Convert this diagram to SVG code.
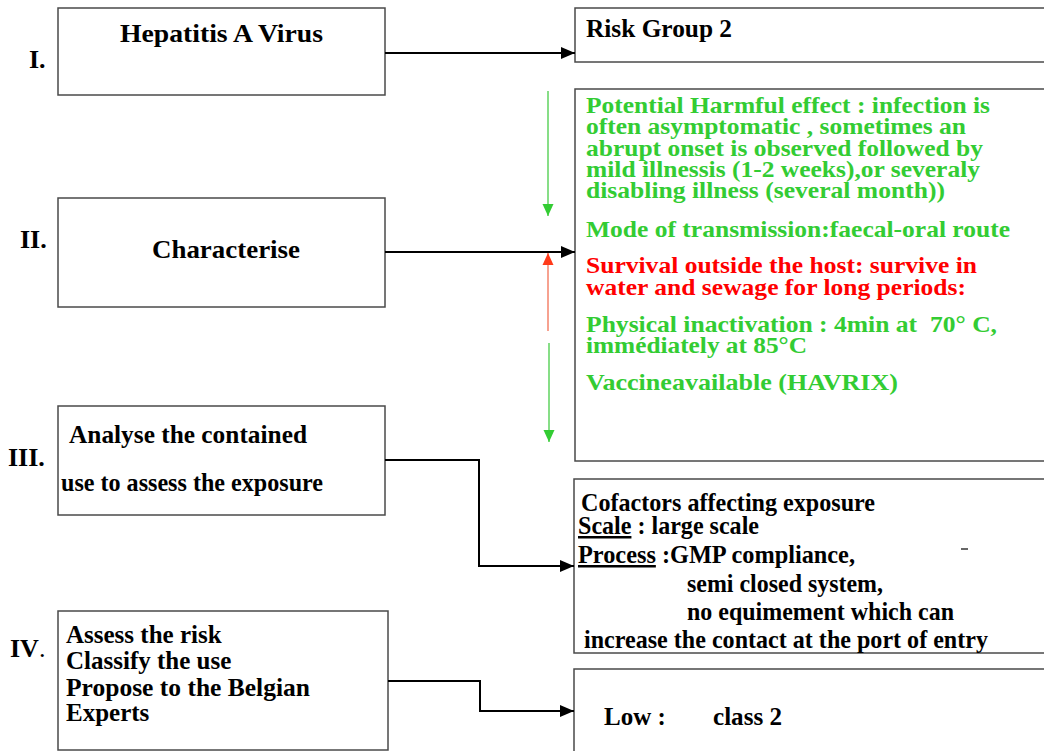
<svg xmlns="http://www.w3.org/2000/svg" width="1044" height="751" viewBox="0 0 1044 751">
<style>
  text { font-family: "Liberation Serif", "Times New Roman", serif; font-weight: bold; font-size: 25px; fill: #000; white-space: pre; }
  .num { font-size: 26px; }
  .box { fill: #fff; stroke: #4a4a4a; stroke-width: 1.5; }
  .conn { fill: none; stroke: #000; stroke-width: 2; }
  .g { fill: #33cc33; font-size: 23px; }
  .r { fill: #ff0000; font-size: 23px; }
  .u { text-decoration: underline; }
</style>
<defs>
  <marker id="ah" markerUnits="userSpaceOnUse" markerWidth="16" markerHeight="14" refX="14" refY="7" orient="auto">
    <path d="M0,1 L14,7 L0,13 Z" fill="#000"/>
  </marker>
  <marker id="ahg" markerUnits="userSpaceOnUse" markerWidth="14" markerHeight="12" refX="12" refY="6" orient="auto">
    <path d="M0,0.5 L12,6 L0,11.5 Z" fill="#33cc33"/>
  </marker>
  <marker id="ahr" markerUnits="userSpaceOnUse" markerWidth="14" markerHeight="12" refX="12" refY="6" orient="auto">
    <path d="M0,0.5 L12,6 L0,11.5 Z" fill="#ff3a1a"/>
  </marker>
</defs>
<rect width="1044" height="751" fill="#fff"/>

<g id="labels">
  <text class="num" x="29" y="68">I.</text>
  <text class="num" x="20" y="248">II.</text>
  <text class="num" x="8" y="466">III.</text>
  <text class="num" x="10" y="657">IV<tspan font-weight="normal">.</tspan></text>
</g>

<g id="node-hepatitis">
  <rect class="box" x="58" y="8" width="327" height="87"/>
  <text x="120" y="42" textLength="203" lengthAdjust="spacingAndGlyphs">Hepatitis A Virus</text>
</g>

<g id="node-characterise">
  <rect class="box" x="58" y="198" width="327" height="109"/>
  <text x="152" y="258" textLength="148" lengthAdjust="spacingAndGlyphs">Characterise</text>
</g>

<g id="node-analyse">
  <rect class="box" x="58" y="406" width="327" height="109"/>
  <text x="69" y="443" textLength="238" lengthAdjust="spacingAndGlyphs">Analyse the contained</text>
  <text x="61" y="491" textLength="262" lengthAdjust="spacingAndGlyphs">use to assess the exposure</text>
</g>

<g id="node-assess">
  <rect class="box" x="58" y="611" width="330" height="139"/>
  <text x="66" y="643">Assess the risk</text>
  <text x="66" y="669">Classify the use</text>
  <text x="66" y="696" textLength="244" lengthAdjust="spacingAndGlyphs">Propose to the Belgian</text>
  <text x="66" y="721">Experts</text>
</g>

<g id="node-riskgroup">
  <rect class="box" x="575" y="8" width="480" height="54"/>
  <text x="586" y="37" font-size="22" textLength="146" lengthAdjust="spacingAndGlyphs">Risk Group 2</text>
</g>

<g id="node-characteristics">
  <rect class="box" x="575" y="89" width="480" height="372"/>
  <text class="g" x="586" y="113" textLength="404" lengthAdjust="spacingAndGlyphs">Potential Harmful effect : infection is</text>
  <text class="g" x="586" y="134" textLength="380" lengthAdjust="spacingAndGlyphs">often asymptomatic , sometimes an</text>
  <text class="g" x="586" y="156" textLength="397" lengthAdjust="spacingAndGlyphs">abrupt onset is observed followed by</text>
  <text class="g" x="586" y="177" textLength="394" lengthAdjust="spacingAndGlyphs">mild illnessis (1-2 weeks),or severaly</text>
  <text class="g" x="586" y="198" textLength="359" lengthAdjust="spacingAndGlyphs">disabling illness (several month))</text>
  <text class="g" x="586" y="237" textLength="424" lengthAdjust="spacingAndGlyphs">Mode of transmission:faecal-oral route</text>
  <text class="r" x="586" y="273" textLength="391" lengthAdjust="spacingAndGlyphs">Survival outside the host: survive in</text>
  <text class="r" x="586" y="295" textLength="380" lengthAdjust="spacingAndGlyphs">water and sewage for long periods:</text>
  <text class="g" x="586" y="332" textLength="411" lengthAdjust="spacingAndGlyphs">Physical inactivation : 4min at  70° C,</text>
  <text class="g" x="586" y="353" textLength="221" lengthAdjust="spacingAndGlyphs">immédiately at 85°C</text>
  <text class="g" x="586" y="390" textLength="312" lengthAdjust="spacingAndGlyphs">Vaccineavailable (HAVRIX)</text>
</g>

<g id="node-cofactors">
  <rect class="box" x="574" y="479" width="480" height="174"/>
  <text x="581" y="511" font-size="24" textLength="294" lengthAdjust="spacingAndGlyphs">Cofactors affecting exposure</text>
  <text x="578" y="534" font-size="24" textLength="181" lengthAdjust="spacingAndGlyphs"><tspan class="u">Scale</tspan> : large scale</text>
  <text x="578" y="563" font-size="24" textLength="277" lengthAdjust="spacingAndGlyphs"><tspan class="u">Process</tspan> :GMP compliance,</text>
  <line x1="961" y1="549" x2="968" y2="549" stroke="#000" stroke-width="1.2"/>
  <text x="687" y="592" font-size="24" textLength="196" lengthAdjust="spacingAndGlyphs">semi closed system,</text>
  <text x="687" y="620" font-size="24" textLength="267" lengthAdjust="spacingAndGlyphs">no equimement which can</text>
  <text x="584" y="648" font-size="24" textLength="404" lengthAdjust="spacingAndGlyphs">increase the contact at the port of entry</text>
</g>

<g id="node-class">
  <rect class="box" x="574" y="669" width="480" height="100"/>
  <text x="604" y="725" font-size="24">Low :</text>
  <text x="713" y="725" font-size="24" textLength="69" lengthAdjust="spacingAndGlyphs">class 2</text>
</g>

<g id="connectors">
  <line class="conn" x1="385" y1="53" x2="575" y2="53" marker-end="url(#ah)"/>
  <line class="conn" x1="385" y1="252" x2="575" y2="252" marker-end="url(#ah)"/>
  <path class="conn" d="M385,460 H479 V566 H574" marker-end="url(#ah)"/>
  <path class="conn" d="M388,681 H480 V711 H574" marker-end="url(#ah)"/>
  <line x1="548" y1="91" x2="548" y2="216" stroke="#5fd35f" stroke-width="1.5" marker-end="url(#ahg)"/>
  <line x1="548" y1="331" x2="548" y2="253" stroke="#f5836b" stroke-width="1.5" marker-end="url(#ahr)"/>
  <line x1="549" y1="343" x2="549" y2="442" stroke="#5fd35f" stroke-width="1.5" marker-end="url(#ahg)"/>
</g>
</svg>
